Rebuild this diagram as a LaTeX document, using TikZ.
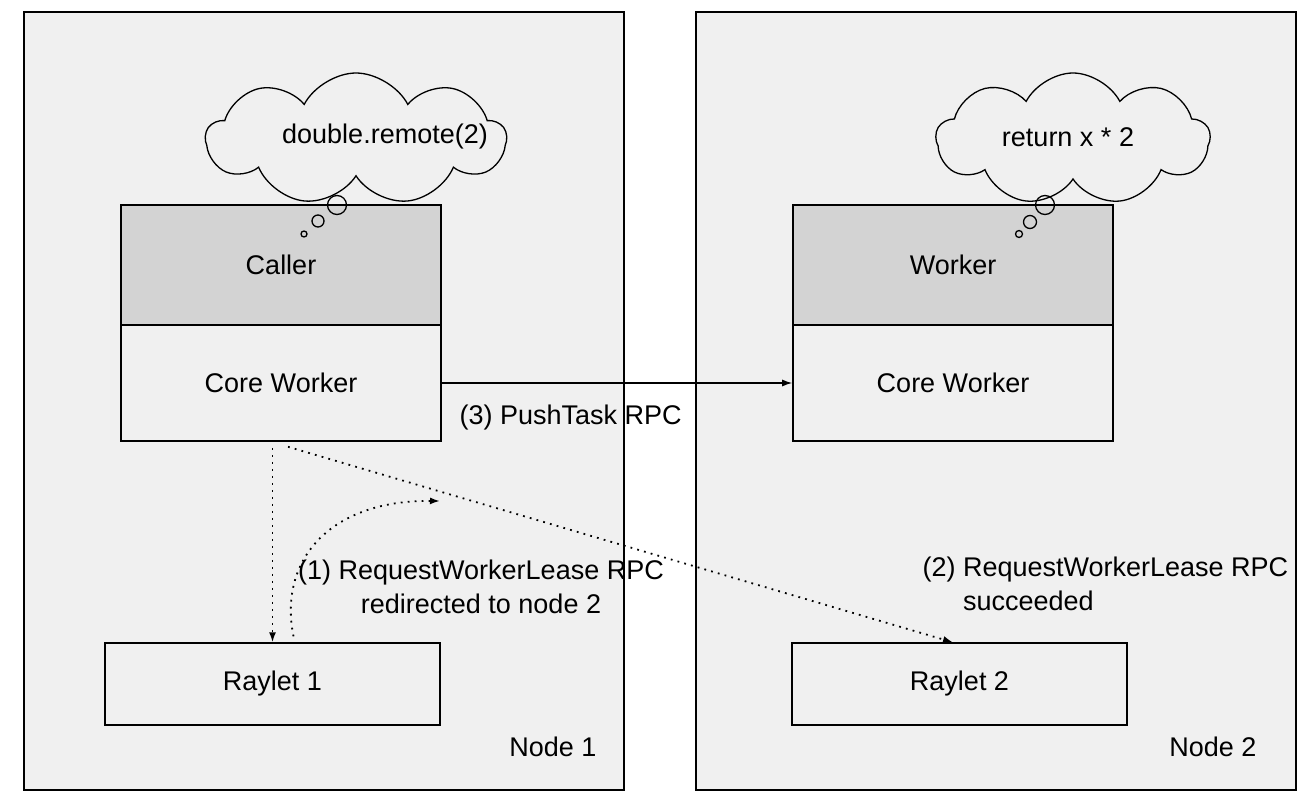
\documentclass[tikz,border=0pt]{standalone}
\usepackage{fontspec}
\setmainfont{Liberation Sans}
\usetikzlibrary{shapes.symbols,arrows.meta,calc}

\definecolor{hostbg}{HTML}{F0F0F0}
\definecolor{procbg}{HTML}{D3D3D3}

\begin{document}
\begin{tikzpicture}[x=1pt,y=-1pt,
    every node/.style={font=\fontsize{27}{34}\selectfont},
    host/.style={draw,fill=hostbg,line width=1.8pt,minimum width=600pt,minimum height=778pt,inner sep=0pt},
    proc/.style={draw,line width=1.6pt,minimum width=320pt,inner sep=0pt},
    raylet/.style={draw,line width=1.3pt,minimum width=335pt,minimum height=82pt,inner sep=0pt},
    thought/.style={cloud,draw,line width=1.3pt,cloud puffs=9,cloud puff arc=125,inner sep=0pt},
    push/.style={line width=1.3pt,-{Latex[length=10pt,width=7pt]}},
    lease/.style={line width=1.8pt,dash pattern=on 1.8pt off 5.2pt,-{Latex[length=10pt,width=7pt]}}]
    \useasboundingbox (0,0) rectangle (1316,810);

    % the two machines
    \node[host] (host1) at (324,401) {};
    \node[host] (host2) at (996,401) {};
    \node[anchor=east] (name1) at (600,747) {Node 1};
    \node[anchor=east] (name2) at (1260,747) {Node 2};

    % processes
    \node[proc,fill=procbg,minimum height=120pt] (caller) at (281,265) {Caller};
    \node[proc,minimum height=116pt] (core1) at (281,383) {Core Worker};
    \node[proc,fill=procbg,minimum height=120pt] (worker) at (953,265) {Worker};
    \node[proc,minimum height=116pt] (core2) at (953,383) {Core Worker};
    \node[raylet] (r1) at (272.5,684) {Raylet 1};
    \node[raylet] (r2) at (959.5,684) {Raylet 2};

    % thoughts
    \node[thought,minimum width=300pt,minimum height=132pt] (think1) at (356,139) {};
    \node (code1) at (385,137) {double.remote(2)};
    \draw[line width=1.3pt] (337,205) circle (9.5) (318,221) circle (6) (304,234) circle (3);
    \node[thought,minimum width=274pt,minimum height=132pt] (think2) at (1073,139) {};
    \node (code2) at (1068,137) {return x * 2};
    \draw[line width=1.3pt] (1045,205) circle (9.5) (1030,222) circle (6.5) (1019,234) circle (3.5);

    % rpcs
    \draw[push] (core1.east) -- (core2.west);
    \node[anchor=west] (lbl3) at (456,418) {(3) PushTask RPC};
    \draw[lease] ($(r1.north |- core1.south)+(0,6)$) -- (r1.north);
    \coordinate (redir) at (440,501);
    \draw[lease] ($(r1.north)+(21,-6)$) .. controls (278,560) and (330,500) .. (redir);
    \draw[lease] ($(core1.south)+(7,5)$) -- ($(r2.north)+(-6.5,0)$);
    \node[align=center] (lbl1) at (481,587) {(1) RequestWorkerLease RPC\\redirected to node 2};
    \node[align=left,anchor=west] (lbl2) at (919,587) {(2) RequestWorkerLease RPC\\\phantom{(2) }succeeded};
\end{tikzpicture}
\end{document}
